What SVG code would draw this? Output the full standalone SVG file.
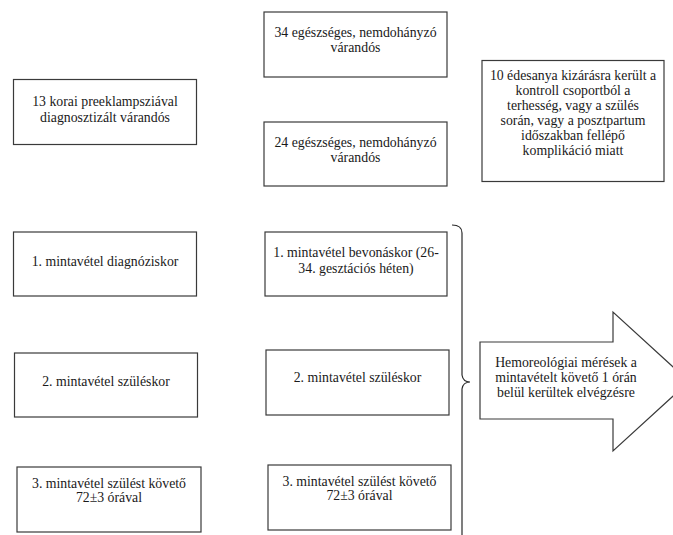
<svg xmlns="http://www.w3.org/2000/svg" width="673" height="535" viewBox="0 0 673 535">
<style>
.box{fill:#fff;stroke:#3a3a3a;stroke-width:1.2}
.t{font-family:'Liberation Serif','Times New Roman',serif;font-size:13.8px;fill:#1a1a1a;text-anchor:middle}
.ln{fill:none;stroke:#2a2a2a;stroke-width:1.2}
</style>
<rect width="673" height="535" fill="#fff"/>
<g id="n34">
<rect class="box" x="264" y="12" width="183" height="65"/>
<text class="t" x="355.5" y="37">34 egészséges, nemdohányzó</text>
<text class="t" x="355.5" y="52">várandós</text>
</g>
<g id="n13">
<rect class="box" x="13.5" y="79.5" width="183" height="65"/>
<text class="t" x="105" y="106">13 korai preeklampsziával</text>
<text class="t" x="105" y="122">diagnosztizált várandós</text>
</g>
<g id="n24">
<rect class="box" x="264" y="122" width="183" height="64"/>
<text class="t" x="355.5" y="147">24 egészséges, nemdohányzó</text>
<text class="t" x="355.5" y="162">várandós</text>
</g>
<g id="n10">
<rect class="box" x="482" y="60.5" width="182" height="121"/>
<text class="t" x="573" y="80">10 édesanya kizárásra került a</text>
<text class="t" x="573" y="95">kontroll csoportból a</text>
<text class="t" x="573" y="110">terhesség, vagy a szülés</text>
<text class="t" x="573" y="125">során, vagy a posztpartum</text>
<text class="t" x="573" y="140">időszakban fellépő</text>
<text class="t" x="573" y="155">komplikáció miatt</text>
</g>
<g id="l1">
<rect class="box" x="13.5" y="232" width="183" height="64"/>
<text class="t" x="105" y="266">1. mintavétel diagnóziskor</text>
</g>
<g id="m1">
<rect class="box" x="265" y="232" width="182" height="64"/>
<text class="t" x="356" y="257">1. mintavétel bevonáskor (26-</text>
<text class="t" x="356" y="273">34. gesztációs héten)</text>
</g>
<g id="l2">
<rect class="box" x="14.5" y="353" width="183" height="64"/>
<text class="t" x="106" y="386">2. mintavétel szüléskor</text>
</g>
<g id="m2">
<rect class="box" x="266" y="350" width="183" height="65"/>
<text class="t" x="357.5" y="382">2. mintavétel szüléskor</text>
</g>
<g id="l3">
<rect class="box" x="17" y="467" width="184" height="65"/>
<text class="t" x="109" y="488">3. mintavétel szülést követő</text>
<text class="t" x="109" y="502">72±3 órával</text>
</g>
<g id="m3">
<rect class="box" x="268" y="465" width="183" height="65"/>
<text class="t" x="359.5" y="486">3. mintavétel szülést követő</text>
<text class="t" x="359.5" y="500">72±3 órával</text>
</g>
<g id="connectors">
<path class="ln" d="M452,225 Q462,225 462,233 L462,375 Q463,382 470,382 Q463,382 462,389 L462,540"/>
</g>
<g id="arrow">
<path class="box" d="M480,342 L613,342 L613,312 L689,381.5 L613,451 L613,419 L480,419 Z"/>
<text class="t" x="566" y="367">Hemoreológiai mérések a</text>
<text class="t" x="566" y="382">mintavételt követő 1 órán</text>
<text class="t" x="566" y="397">belül kerültek elvégzésre</text>
</g>
</svg>
